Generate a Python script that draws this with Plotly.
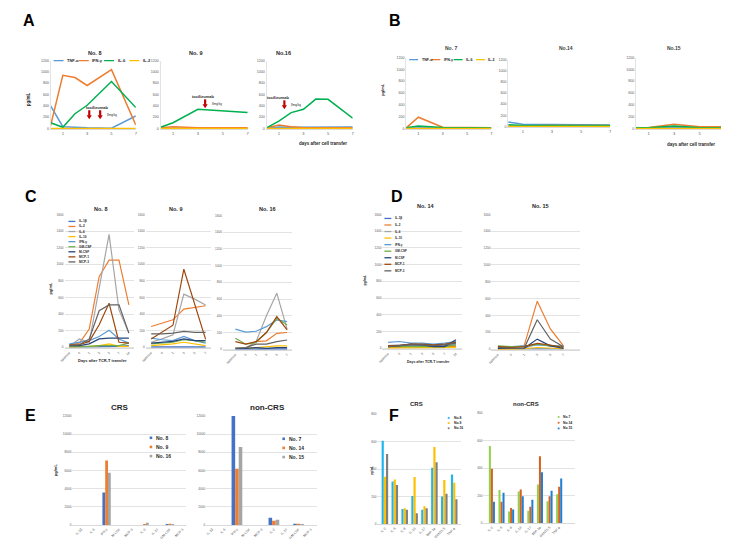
import plotly.graph_objects as go

W, H = 729, 539
FONT = "Liberation Sans, Arial, sans-serif"
GREY = "#595959"
DARK = "#262626"

# ---------------- A / B : cytokines after cell transfer ----------------
ab_names = ["TNF-α", "IFN-γ", "IL-6", "IL-2"]
ab_colors = ["#5B9BD5", "#ED7D31", "#00B050", "#FFC000"]
ab_ticks = [1, 3, 5, 7]
ab_yticks = [0, 200, 400, 600, 800, 1000, 1200]

no8_days = [0, 1, 2, 3, 5, 7]
no8_vals = [[400, 30, 20, 10, 5, 220],
            [50, 940, 900, 760, 1040, 60],
            [100, 20, 260, 410, 830, 370],
            [0, 0, 0, 0, 0, 0]]
no9_days = [0, 1, 3, 5, 7]
no9_vals = [[5, 5, 5, 5, 5],
            [10, 30, 10, 10, 10],
            [20, 100, 340, 310, 280],
            [0, 0, 0, 0, 0]]
no16_days = [0, 1, 2, 3, 4, 5, 7]
no16_vals = [[5, 25, 20, 20, 25, 25, 25],
             [10, 60, 30, 10, 10, 10, 10],
             [10, 130, 280, 340, 520, 515, 180],
             [0, 0, 0, 0, 0, 0, 0]]
no7_days = [0, 1, 3, 5, 7]
no7_vals = [[5, 10, 10, 10, 10],
            [10, 190, 20, 10, 10],
            [10, 40, 15, 10, 5],
            [0, 0, 0, 0, 0]]
no14_days = [0, 1, 3, 5, 7]
no14_vals = [[80, 40, 35, 30, 25],
             [10, 15, 15, 15, 15],
             [30, 15, 15, 15, 15],
             [0, 0, 0, 0, 0]]
no15_days = [0, 1, 3, 5, 7]
no15_vals = [[5, 10, 20, 20, 20],
             [10, 15, 70, 30, 30],
             [10, 10, 40, 10, 10],
             [0, 0, 0, 0, 0]]

# ---------------- C / D : multiplex cytokines ----------------
cd_names = ["IL-1β", "IL-2", "IL-6", "IL-10", "IFN-γ", "GM-CSF", "M-CSF", "MCP-1", "MCP-3"]
cd_colors = ["#4472C4", "#ED7D31", "#A5A5A5", "#FFC000", "#5B9BD5",
             "#70AD47", "#264478", "#9E480E", "#636363"]
cd_cats7 = ["baseline", "0", "1", "3", "5", "7", "14"]
cd_cats6 = ["baseline", "0", "1", "3", "5", "7"]
cd_yticks = [0, 200, 400, 600, 800, 1000, 1200, 1400, 1600]

c8_vals = [[5, 5, 5, 10, 10, 10, 20],
           [30, 50, 220, 850, 1050, 1050, 510],
           [10, 100, 60, 700, 1360, 450, 170],
           [5, 5, 10, 20, 40, 10, 10],
           [40, 60, 80, 130, 205, 100, 50],
           [10, 10, 10, 20, 20, 20, 50],
           [20, 20, 40, 100, 110, 110, 110],
           [30, 30, 70, 270, 530, 60, 50],
           [20, 30, 100, 440, 510, 510, 170]]
c9_vals = [[5, 5, 5, 5, 5, 5],
           [250, 290, 330, 460, 480, 500],
           [60, 100, 150, 640, 580, 510],
           [20, 30, 40, 60, 40, 20],
           [110, 90, 80, 130, 80, 50],
           [40, 50, 60, 90, 80, 60],
           [50, 60, 70, 100, 80, 80],
           [100, 180, 265, 940, 520, 95],
           [160, 160, 170, 190, 180, 180]]
c16_vals = [[5, 5, 5, 5, 5, 5],
            [10, 10, 90, 100, 190, 200],
            [10, 10, 90, 400, 670, 240],
            [10, 10, 20, 30, 40, 40],
            [240, 205, 215, 270, 350, 330],
            [130, 60, 80, 200, 370, 290],
            [10, 10, 20, 10, 20, 20],
            [90, 60, 90, 200, 390, 230],
            [10, 20, 60, 60, 90, 110]]
d14_vals = [[20, 30, 30, 30, 30, 30, 40],
            [10, 10, 20, 20, 20, 20, 20],
            [30, 40, 40, 40, 40, 40, 50],
            [5, 5, 5, 5, 5, 5, 10],
            [70, 80, 60, 60, 50, 60, 80],
            [20, 20, 20, 20, 20, 20, 40],
            [20, 30, 50, 40, 20, 20, 100],
            [30, 30, 50, 50, 40, 50, 70],
            [20, 30, 40, 40, 30, 40, 60]]
d15_vals = [[5, 5, 5, 5, 5, 5],
            [20, 20, 40, 570, 240, 40],
            [10, 10, 10, 60, 40, 30],
            [0, 0, 5, 20, 10, 5],
            [30, 30, 40, 50, 40, 40],
            [40, 30, 30, 60, 40, 30],
            [10, 10, 10, 120, 40, 10],
            [30, 20, 30, 70, 50, 20],
            [20, 10, 10, 350, 120, 30]]

# ---------------- E : bars ----------------
e_cats = ["IL-1β", "IL-6", "IFN-γ", "M-CSF", "MCP-3", "IL-2", "IL-10", "GM-CSF", "MCP-1"]
e_colors = ["#4472C4", "#ED7D31", "#A5A5A5"]
e_yticks = [0, 2000, 4000, 6000, 8000, 10000, 12000]
e_crs_names = ["No. 8", "No. 9", "No. 16"]
e_crs_vals = [[0, 0, 3600, 0, 0, 20, 0, 60, 10],
              [0, 0, 7100, 0, 0, 100, 0, 150, 10],
              [0, 0, 5750, 0, 0, 250, 0, 60, 10]]
e_non_names = ["No. 7", "No. 14", "No. 15"]
e_non_vals = [[0, 0, 12100, 0, 0, 800, 0, 150, 10],
              [0, 0, 6200, 0, 0, 480, 0, 150, 10],
              [0, 0, 8600, 0, 0, 600, 0, 130, 10]]

# ---------------- F : bars ----------------
f_cats = ["IL-2", "IL-6", "IL-8", "IL-13", "IL-17", "MIP-1α", "RANTES", "TNF-α"]
f_yticks = [0, 200, 400, 600, 800]
f_crs_names = ["No.8", "No.9", "No.16"]
f_crs_colors = ["#1FB5EE", "#FFC000", "#808080"]
f_crs_vals = [[605, 310, 110, 205, 105, 410, 200, 360],
              [345, 325, 115, 342, 130, 560, 320, 300],
              [510, 285, 105, 80, 115, 450, 220, 180]]
f_non_names = ["No.7", "No.14", "No.15"]
f_non_colors = ["#92D050", "#D9601E", "#1F7FD5"]
f_non_vals = [[560, 240, 85, 230, 90, 280, 160, 210],
              [395, 155, 110, 245, 120, 485, 195, 265],
              [155, 220, 100, 195, 170, 370, 235, 325]]

fig = go.Figure()
n_ax = 0


def axes(x0, x1, y0, y1, xk, yk):
    global n_ax
    n_ax += 1
    s = "" if n_ax == 1 else str(n_ax)
    fig.update_layout(**{
        "xaxis" + s: dict(domain=[x0 / W, x1 / W], anchor="y" + s, **xk),
        "yaxis" + s: dict(domain=[1 - y1 / H, 1 - y0 / H], anchor="x" + s, **yk),
    })
    return "x" + s, "y" + s


anns = []
shapes = []


def txt(x, y, text, size, color=DARK, bold=False, xa="center", ya="middle", angle=0):
    if bold:
        text = "<b>" + text + "</b>"
    anns.append(dict(x=x / W, y=1 - y / H, xref="paper", yref="paper", text=text,
                     showarrow=False, xanchor=xa, yanchor=ya, textangle=angle,
                     font=dict(size=size, color=color, family=FONT)))


def arrow(x, y, length):
    # thick red down arrow: shaft + head
    shapes.append(dict(type="rect", xref="paper", yref="paper",
                       x0=(x - 1.1) / W, x1=(x + 1.1) / W,
                       y0=1 - (y - 3.5) / H, y1=1 - (y - length) / H,
                       fillcolor="#C00000", line=dict(width=0)))
    path = "M %f %f L %f %f L %f %f Z" % ((x - 2.6) / W, 1 - (y - 4) / H,
                                          (x + 2.6) / W, 1 - (y - 4) / H,
                                          x / W, 1 - y / H)
    shapes.append(dict(type="path", xref="paper", yref="paper", path=path,
                       fillcolor="#C00000", line=dict(width=0)))


def tickfont(s):
    return dict(size=s, color=GREY, family=FONT)


# ---- A / B line panels ----
def ab_panel(x0, x1, y0, y1, days, vals):
    xa, ya = axes(x0, x1, y0, y1,
                  dict(range=[0, 7], tickvals=ab_ticks, showgrid=False, zeroline=False,
                       showline=True, linecolor="#D9D9D9", ticks="", tickfont=tickfont(4)),
                  dict(range=[-12, 1200], tickvals=ab_yticks, tickformat="d", showgrid=False,
                       zeroline=False, showline=True, linecolor="#E3E3E3", ticks="",
                       tickfont=tickfont(3.6)))
    for name, col, v in zip(ab_names, ab_colors, vals):
        fig.add_trace(go.Scatter(x=days, y=v, mode="lines", name=name, xaxis=xa, yaxis=ya,
                                 line=dict(color=col, width=1.5), showlegend=False))


ab_panel(38, 124, 51, 120, no8_days, no8_vals)
ab_panel(149, 237, 51, 120, no9_days, no9_vals)
ab_panel(256, 343, 51, 120, no16_days, no16_vals)
ab_panel(397, 483, 48, 120, no7_days, no7_vals)
ab_panel(500, 603, 50, 118, no14_days, no14_vals)
ab_panel(629, 719, 48, 120, no15_days, no15_vals)


# ---- C / D line panels ----
def cd_panel(x0, x1, y0, y1, cats, vals, xr):
    xa, ya = axes(x0, x1, y0, y1,
                  dict(range=xr, tickvals=list(range(len(cats))), ticktext=cats, tickangle=-45,
                       showgrid=False, zeroline=False, showline=True, linecolor="#D9D9D9",
                       ticks="", tickfont=tickfont(3.4)),
                  dict(range=[-15, 1600], tickvals=cd_yticks, tickformat="d", showgrid=True,
                       gridcolor="#E3E3E3", gridwidth=0.6, zeroline=False, showline=False,
                       ticks="", tickfont=tickfont(3.1)))
    for name, col, v in zip(cd_names, cd_colors, vals):
        fig.add_trace(go.Scatter(x=list(range(len(cats))), y=v, mode="lines", name=name,
                                 xaxis=xa, yaxis=ya, line=dict(color=col, width=1.2),
                                 showlegend=False))


cd_panel(52, 122, 206, 341, cd_cats7, c8_vals, [-0.5, 6.5])
cd_panel(134, 200, 206, 341, cd_cats6, c9_vals, [-0.5, 5.5])
cd_panel(212, 282, 207, 343, cd_cats6, c16_vals, [-1.2, 5.5])
cd_panel(373, 453, 206, 342, cd_cats7, d14_vals, [-0.5, 6.5])
cd_panel(483, 573, 206, 343, cd_cats6, d15_vals, [-0.5, 6.3])


# ---- E / F bar panels ----
def bar_panel(x0, x1, y0, y1, cats, names, colors, vals, xr, yr, yt, w, fs):
    xa, ya = axes(x0, x1, y0, y1,
                  dict(range=xr, tickvals=list(range(len(cats))), ticktext=cats, tickangle=-45,
                       showgrid=False, zeroline=False, showline=True, linecolor="#D9D9D9",
                       ticks="", tickfont=tickfont(fs)),
                  dict(range=yr, tickvals=yt, tickformat="d", showgrid=True, gridcolor="#E3E3E3",
                       gridwidth=0.6, zeroline=False, showline=False, ticks="",
                       tickfont=tickfont(3.1)))
    for k, (name, col, v) in enumerate(zip(names, colors, vals)):
        fig.add_trace(go.Bar(x=list(range(len(cats))), y=v, name=name, xaxis=xa, yaxis=ya,
                             marker=dict(color=col, line=dict(width=0)), width=w,
                             offset=-1.5 * w + k * w, showlegend=False))


bar_panel(60, 175, 409, 519, e_cats, e_crs_names, e_colors, e_crs_vals,
          [-0.7, 8.3], [0, 12000], e_yticks, 0.22, 3.4)
bar_panel(195, 307, 409, 519, e_cats, e_non_names, e_colors, e_non_vals,
          [-0.5, 8.5], [0, 12000], e_yticks, 0.29, 3.4)
bar_panel(368, 452, 407, 518, f_cats, f_crs_names, f_crs_colors, f_crs_vals,
          [-0.75, 7.65], [0, 800], f_yticks, 0.22, 3.4)
bar_panel(475, 567, 406, 517, f_cats, f_non_names, f_non_colors, f_non_vals,
          [-0.88, 8.6], [0, 800], f_yticks, 0.21, 3.4)

# ---- panel letters ----
for L, x, y in [("A", 8, 11), ("B", 378, 11), ("C", 10, 188), ("D", 380, 188),
                ("E", 10, 409), ("F", 378, 409)]:
    txt(x, y, L, 16, "#000000", True, xa="left")

# ---- titles ----
for t, x, y in [("No. 8", 82, 43), ("No. 9", 184, 43), ("No.16", 273, 43)]:
    txt(x, y, t, 5.5, DARK, True)
for t, x, y in [("No. 7", 442, 38), ("No.14", 558, 38), ("No.15", 667, 38)]:
    txt(x, y, t, 5, "#404040", True)
for t, x, y in [("No. 8", 88, 200), ("No. 9", 164, 200), ("No. 16", 257, 200),
                ("No. 14", 417, 197), ("No. 15", 533, 197)]:
    txt(x, y, t, 5.5, DARK, True)
for t, x, y, s in [("CRS", 108, 400, 8), ("non-CRS", 257, 400, 8),
                   ("CRS", 407, 397, 6), ("non-CRS", 518, 397, 6)]:
    txt(x, y, t, s, DARK, True)

# ---- axis titles ----
txt(15, 90, "pg/mL", 4.5, DARK, True, angle=-90)
txt(373, 80, "pg/mL", 4, DARK, True, angle=-90)
txt(313, 135, "days after cell transfer", 4.5, DARK, True)
txt(685, 136, "days after cell transfer", 4.5, DARK, True)
txt(38, 280, "pg/mL", 4, DARK, True, angle=-90)
txt(355, 272, "pg/mL", 3.5, DARK, True, angle=-90)
txt(90, 353, "Days after TCR-T transfer", 4, DARK, True)
txt(420, 355, "Days after TCR-T transfer", 3.5, DARK, True)
txt(43, 463, "pg/mL", 4, DARK, True, angle=-90)
txt(362, 464, "pg/mL", 3, DARK, True, angle=-90)

# ---- tocilizumab marks ----
txt(85, 98, "tocilizumab", 4, DARK, True)
arrow(77, 110, 9)
arrow(88, 110, 9)
txt(93, 106, "8mg/kg", 3, DARK, xa="left")
txt(192, 87, "tocilizumab", 4, DARK, True)
arrow(194, 99, 9)
txt(199, 95, "8mg/kg", 3, DARK, xa="left")
txt(268, 88, "tocilizumab", 4, DARK, True)
arrow(274, 100, 9)
txt(279, 96, "8mg/kg", 3, DARK, xa="left")


# ---- legends ----
def line_key(x, y, name, col, size, ln):
    shapes.append(dict(type="line", xref="paper", yref="paper", x0=x / W, x1=(x + ln) / W,
                       y0=1 - y / H, y1=1 - y / H, line=dict(color=col, width=1.3)))
    txt(x + ln + 1.5, y, name, size, DARK, True, xa="left")


for k, (n, c) in enumerate(zip(ab_names, ab_colors)):
    line_key(41 + 25.5 * k, 51, n, c, 4, 10)
    line_key(400 + 22.5 * k, 50, n, c, 3.6, 9)
for k, (n, c) in enumerate(zip(cd_names, cd_colors)):
    line_key(56, 213 + 5.1 * k, n, c, 3.2, 7)
    line_key(375, 210 + 6.6 * k, n, c, 3.0, 7)


def box_key(x, y, name, col, size, sq):
    shapes.append(dict(type="rect", xref="paper", yref="paper",
                       x0=x / W, x1=(x + sq) / W, y0=1 - (y + sq / 2) / H, y1=1 - (y - sq / 2) / H,
                       fillcolor=col, line=dict(width=0)))
    txt(x + sq + 2, y, name, size, DARK, True, xa="left")


for k, (n, c) in enumerate(zip(e_crs_names, e_colors)):
    box_key(138, 431 + 9.2 * k, n, c, 5, 2.6)
for k, (n, c) in enumerate(zip(e_non_names, e_colors)):
    box_key(272, 432 + 9.2 * k, n, c, 5, 2.6)
for k, (n, c) in enumerate(zip(f_crs_names, f_crs_colors)):
    box_key(439, 411 + 5.2 * k, n, c, 3.4, 1.8)
for k, (n, c) in enumerate(zip(f_non_names, f_non_colors)):
    box_key(550, 410 + 5.8 * k, n, c, 3.4, 1.8)

fig.update_layout(width=W, height=H, margin=dict(l=0, r=0, t=0, b=0),
                  paper_bgcolor="white", plot_bgcolor="white", barmode="overlay",
                  font=dict(family=FONT), annotations=anns, shapes=shapes, showlegend=False)

fig.write_html("out.html")
